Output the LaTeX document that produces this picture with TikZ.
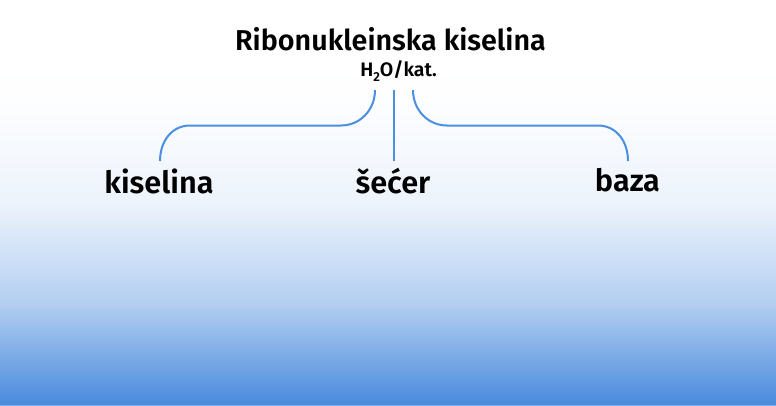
\documentclass[tikz,border=0pt]{standalone}
\usepackage{fontspec}
\setmainfont{Fira Sans SemiBold}
\definecolor{linkblue}{HTML}{4A90E2}
\definecolor{shadeblue}{HTML}{4A8BDD}
\pgfdeclareverticalshading{pagebg}{100bp}{
  color(0bp)=(shadeblue!70!white);
  color(25bp)=(shadeblue!70!white);
  color(25.12bp)=(shadeblue!70!white);
  color(25.13bp)=(shadeblue);
  color(37.5bp)=(shadeblue!42!white);
  color(50bp)=(shadeblue!10!white);
  color(62.5bp)=(shadeblue!1!white);
  color(68bp)=(white);
  color(100bp)=(white)}
\tikzset{
  lbl/.style={inner sep=0pt,anchor=base,text=black},
  titlelbl/.style={lbl,font=\fontsize{28.7}{30}\selectfont},
  sublbl/.style={lbl,font=\fontsize{19.5}{21}\selectfont},
  itemlbl/.style={lbl,font=\fontsize{30.7}{32}\selectfont},
  link/.style={draw=linkblue,line width=2pt}
}
\begin{document}
\begin{tikzpicture}[x=1pt,y=-1pt]
\useasboundingbox (0,0) rectangle (776,405);
\path[shading=pagebg] (0,0) rectangle (776,405);
\node[titlelbl] (title) at (390.5,50.5) {Ribonukleinska kiselina};
\node[sublbl] (sub) at (398.5,76) {H\raisebox{-0.55ex}{\fontsize{13}{14}\selectfont 2}O/kat.};
\node[itemlbl] (acid) at (159,193) {kiselina};
\node[itemlbl] (sugar) at (393,193) {šećer};
\node[itemlbl] (base) at (627.5,191) {baza};
\coordinate (subL) at (375,90);
\coordinate (subC) at (394,90);
\coordinate (subR) at (413,90);
\coordinate (acidTop) at (160,161);
\coordinate (sugarTop) at (394,161);
\coordinate (baseTop) at (628,161);
\draw[link] (subL) .. controls (375,110) and (360,125.5) .. (341,125.5) -- (190,125.5) .. controls (172,125.5) and (160,141) .. (acidTop);
\draw[link] (subC) -- (sugarTop);
\draw[link] (subR) .. controls (413,110) and (428,125.5) .. (447,125.5) -- (598,125.5) .. controls (616,125.5) and (628,141) .. (baseTop);
\end{tikzpicture}
\end{document}
